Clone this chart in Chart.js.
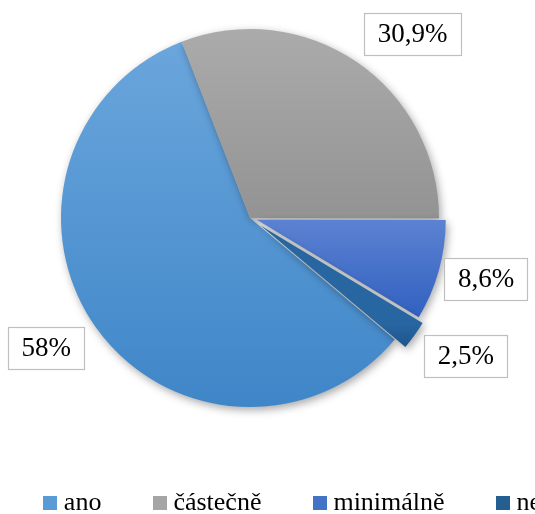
<!DOCTYPE html>
<html>
<head>
<meta charset="utf-8">
<script src="https://cdn.jsdelivr.net/npm/chart.js@4"></script>
<style>
  html, body { margin: 0; padding: 0; background: #fff; overflow: hidden; width: 535px; height: 514px; }
  #obal { position: absolute; left: -20px; top: 4px; width: 631px; height: 522px; }
</style>
</head>
<body>
<div id="obal"><canvas id="hodnoceni"></canvas></div>
<script>
const kategorie = ["ano", "částečně", "minimálně", "ne"];
const podily = [58, 30.9, 8.6, 2.5];
const vysunuti = [0, 0, 7, 13];

const barvy = ["#5b9bd5", "#a5a5a5", "#4472c4", "#255e91"];
// gradient stops per slice (position along the pie height, colour)
const prechody = [
  [[0, "#6ca7dd"], [1, "#3f86c8"]],
  [[0, "#ababab"], [0.5, "#939393"]],
  [[0.5, "#5c82d2"], [0.77, "#2f5fbf"]],
  [[0.76, "#2866a1"], [0.84, "#1b4f87"]],
];
const polomer = 189;
const pismo = "'Liberation Serif', 'Times New Roman', serif";

function vypln(context) {
  const i = context.dataIndex;
  const area = context.chart.chartArea;
  if (!area || i === undefined) return barvy[i];
  const cy = (area.top + area.bottom) / 2;
  const g = context.chart.ctx.createLinearGradient(0, cy - polomer, 0, cy + polomer);
  prechody[i].forEach(([p, c]) => g.addColorStop(p, c));
  return g;
}

// small square legend marker, drawn as an image so the text sits close to it
function ctverec(barva) {
  const cv = document.createElement("canvas");
  cv.width = 14;
  cv.height = 14;
  const c = cv.getContext("2d");
  c.fillStyle = barva;
  c.fillRect(0, 0, 14, 14);
  return cv;
}

// soft shadow under the pie
const stin = {
  id: "stin",
  beforeDatasetsDraw(chart) {
    const c = chart.ctx;
    c.save();
    c.shadowColor = "rgba(0,0,0,0.35)";
    c.shadowBlur = 9;
    c.shadowOffsetX = 2;
    c.shadowOffsetY = 3;
  },
  afterDatasetsDraw(chart) {
    chart.ctx.restore();
  }
};

// exploded slices: move whole arc outwards without growing it
const vysun = {
  id: "vysun",
  beforeDatasetDraw(chart, args) {
    const c = chart.ctx;
    args.meta.data.forEach((arc, i) => {
      const mid = (arc.startAngle + arc.endAngle) / 2;
      c.save();
      c.translate(Math.cos(mid) * vysunuti[i], Math.sin(mid) * vysunuti[i]);
      arc.draw(c, chart.chartArea);
      c.restore();
    });
    return false;
  }
};

// boxed percentage labels outside the slices
const popisky = {
  id: "popisky",
  afterDatasetsDraw(chart, args, opts) {
    const c = chart.ctx;
    const meta = chart.getDatasetMeta(0);
    c.save();
    c.font = "27px " + pismo;
    c.textAlign = "center";
    c.textBaseline = "middle";
    meta.data.forEach((arc, i) => {
      const [posun, vzdal] = opts.umisteni[i];
      const mid = (arc.startAngle + arc.endAngle) / 2 + posun * Math.PI / 180;
      const d = arc.outerRadius * vzdal;
      const x = arc.x + Math.cos(mid) * d;
      const y = arc.y + Math.sin(mid) * d;
      const text = String(podily[i]).replace(".", ",") + "%";
      const w = c.measureText(text).width + 27;
      const h = 42;
      c.fillStyle = "#fff";
      c.fillRect(x - w / 2, y - h / 2, w, h);
      c.strokeStyle = "#bfbfbf";
      c.lineWidth = 1.2;
      c.strokeRect(Math.round(x - w / 2) + 0.5, Math.round(y - h / 2) + 0.5, Math.round(w), h);
      c.fillStyle = "#000";
      c.fillText(text, x, y + 1);
    });
    c.restore();
  }
};

const zaklad = (Chart.overrides.pie || Chart.overrides.doughnut).plugins.legend.labels.generateLabels;

new Chart(document.getElementById("hodnoceni"), {
  type: "pie",
  data: {
    labels: kategorie,
    datasets: [{
      data: podily,
      backgroundColor: vypln,
      borderWidth: 0,
      rotation: 130,
      radius: polomer,
    }]
  },
  options: {
    responsive: true,
    maintainAspectRatio: false,
    animation: false,
    events: [],
    plugins: {
      legend: {
        position: "bottom",
        labels: {
          color: "#000",
          font: { family: pismo, size: 26 },
          usePointStyle: true,
          pointStyleWidth: 1,
          boxHeight: 14,
          padding: 58,
          generateLabels(chart) {
            return zaklad(chart).map((l, i) => ({ ...l, fillStyle: barvy[i], lineWidth: 0, pointStyle: ctverec(barvy[i]) }));
          }
        }
      },
      // empty title on the right only pushes the pie left of the legend centre
      title: { display: true, text: "", position: "right", fullSize: false, padding: 0, font: { size: 91, lineHeight: 1 } },
      tooltip: { enabled: false },
      popisky: {
        umisteni: [[3, 1.28], [7, 1.3], [-1, 1.29], [-3, 1.355]]
      }
    }
  },
  plugins: [stin, vysun, popisky]
});
</script>
</body>
</html>
